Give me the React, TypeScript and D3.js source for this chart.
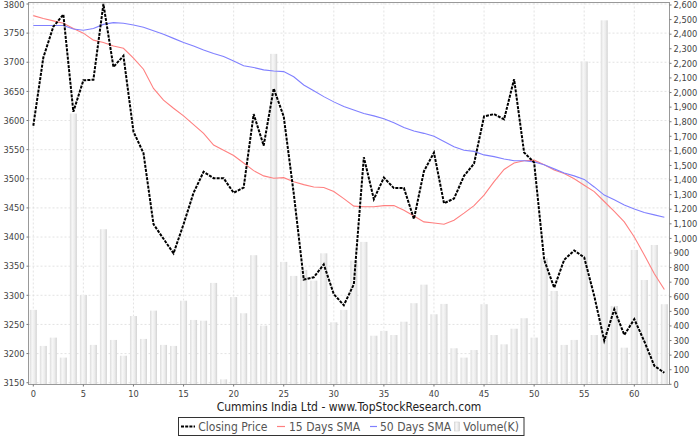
import React from "react";
import * as d3 from "d3";

const closing = [3591, 3708, 3761, 3782, 3615, 3669, 3670, 3800, 3692, 3711, 3581, 3544, 3422, 3397, 3372, 3422, 3476, 3512, 3501, 3501, 3476, 3485, 3611, 3557, 3655, 3607, 3475, 3327, 3331, 3353, 3302, 3283, 3319, 3537, 3465, 3502, 3484, 3484, 3431, 3513, 3545, 3458, 3466, 3505, 3526, 3607, 3611, 3602, 3671, 3545, 3528, 3361, 3313, 3361, 3377, 3365, 3299, 3222, 3276, 3232, 3259, 3221, 3179, 3167];
const sma15 = [3780, 3775, 3771, 3767, 3758, 3750, 3738, 3734, 3728, 3724, 3707, 3688, 3655, 3635, 3621, 3608, 3593, 3578, 3558, 3549, 3540, 3527, 3514, 3505, 3501, 3502, 3495, 3490, 3486, 3485, 3478, 3466, 3453, 3452, 3452, 3454, 3454, 3446, 3436, 3426, 3424, 3422, 3429, 3441, 3454, 3472, 3495, 3516, 3527, 3531, 3532, 3524, 3515, 3509, 3500, 3489, 3478, 3461, 3444, 3426, 3400, 3369, 3337, 3310];
const sma50 = [3763, 3763, 3763, 3763, 3757, 3755, 3758, 3765, 3768, 3767, 3764, 3760, 3754, 3748, 3741, 3734, 3728, 3721, 3715, 3710, 3702, 3694, 3691, 3687, 3685, 3684, 3675, 3661, 3651, 3641, 3632, 3624, 3618, 3612, 3608, 3603, 3596, 3588, 3582, 3578, 3573, 3564, 3555, 3549, 3547, 3541, 3538, 3534, 3531, 3531, 3529, 3524, 3517, 3510, 3505, 3499, 3486, 3472, 3464, 3455, 3448, 3442, 3438, 3434];
const volume = [510, 263, 320, 183, 1856, 612, 270, 1063, 304, 196, 468, 311, 505, 270, 263, 573, 441, 436, 695, 34, 598, 487, 885, 402, 2265, 839, 743, 784, 711, 898, 425, 510, 848, 976, 333, 366, 338, 429, 556, 683, 480, 551, 247, 183, 235, 549, 338, 274, 381, 453, 320, 864, 640, 270, 304, 2213, 338, 2495, 537, 251, 921, 715, 955, 549];

const xTicks = [0, 5, 10, 15, 20, 25, 30, 35, 40, 45, 50, 55, 60];
const priceTicks = [3150, 3200, 3250, 3300, 3350, 3400, 3450, 3500, 3550, 3600, 3650, 3700, 3750, 3800];
const volTicks = d3.range(0, 2601, 100);

const title = "Cummins India Ltd - www.TopStockResearch.com";
const legendLabels = ["Closing Price", "15 Days SMA", "50 Days SMA", "Volume(K)"];

const FONT = "'DejaVu Sans Condensed', 'DejaVu Sans', sans-serif";

export default function App() {
  const W = 700, H = 437;
  const plotL = 28.5, plotR = 669.5, plotT = 2.5, plotB = 384.5;
  const x = d3.scaleLinear().domain([0, 60]).range([33.3, 634.3]);
  const yP = d3.scaleLinear().domain([3150, 3800]).range([382.7, 4]);
  const yV = d3.scaleLinear().domain([0, 2600]).range([384.3, 5]);
  const line = (arr: number[]) =>
    d3.line<number>().x((_, i) => x(i)).y((d) => yP(d))(arr) || "";
  const bw = 7;
  const tickColor = "#444";
  const gridColor = "#dcdcdc";

  return (
    <svg width={W} height={H} style={{ position: "absolute", left: 0, top: 0, background: "#fff" }}
      fontFamily={FONT}>
      <defs>
        <linearGradient id="barGrad" x1="0" x2="1" y1="0" y2="0">
          <stop offset="0" stopColor="#dcdcdc" />
          <stop offset="0.35" stopColor="#f7f7f7" />
          <stop offset="0.7" stopColor="#ebebeb" />
          <stop offset="1" stopColor="#d2d2d2" />
        </linearGradient>
        <clipPath id="plotClip">
          <rect x={plotL} y={plotT} width={plotR - plotL} height={plotB - plotT} />
        </clipPath>
      </defs>
      <rect x={0} y={0} width={W} height={H} fill="#fff" />
      <g stroke={gridColor} strokeWidth={0.8} strokeDasharray="2,2">
        {xTicks.map((t) => (
          <line key={"gx" + t} x1={x(t)} x2={x(t)} y1={plotT} y2={plotB} />
        ))}
        {priceTicks.map((t) => (
          <line key={"gy" + t} x1={plotL} x2={plotR} y1={yP(t)} y2={yP(t)} />
        ))}
      </g>
      <g clipPath="url(#plotClip)">
        {volume.map((v, i) => (
          <rect key={"b" + i} x={x(i) - bw / 2} y={yV(v)} width={bw} height={yV(0) - yV(v)} fill="url(#barGrad)" />
        ))}
        <path d={line(sma15)} fill="none" stroke="#ff8080" strokeWidth={1.1} />
        <path d={line(sma50)} fill="none" stroke="#8080ff" strokeWidth={1.1} />
        <path d={line(closing)} fill="none" stroke="#000" strokeWidth={2} strokeDasharray="3,1.2" />
      </g>
      <rect x={plotL} y={plotT} width={plotR - plotL} height={plotB - plotT} fill="none" stroke="#999" strokeWidth={1} />
      <g fontSize={9.2} fill={tickColor}>
        {priceTicks.map((t) => (
          <g key={"lt" + t}>
            <line x1={plotL - 2} x2={plotL} y1={yP(t)} y2={yP(t)} stroke="#777" />
            <text x={plotL - 4} y={Math.max(yP(t), 4.5)} dy="0.35em" textAnchor="end">{t}</text>
          </g>
        ))}
        {volTicks.map((t) => (
          <g key={"rt" + t}>
            <line x1={plotR} x2={plotR + 2} y1={yV(t)} y2={yV(t)} stroke="#777" />
            <text x={plotR + 4} y={Math.max(yV(t), 4.5)} dy="0.35em" textAnchor="start">{d3.format(",")(t)}</text>
          </g>
        ))}
        {xTicks.map((t) => (
          <g key={"xt" + t}>
            <line x1={x(t)} x2={x(t)} y1={plotB} y2={plotB + 2} stroke="#777" />
            <text x={x(t)} y={396.7} textAnchor="middle">{t}</text>
          </g>
        ))}
      </g>
      <text x={(plotL + plotR) / 2} y={410.7} textAnchor="middle" fontSize={12} fill="#222">{title}</text>
      <g>
        <rect x={178.5} y={417.5} width={345.5} height={18} fill="#fff" stroke="#333" strokeWidth={1} />
        <line x1={181} x2={195} y1={426.5} y2={426.5} stroke="#000" strokeWidth={2} strokeDasharray="3,1.2" />
        <text x={198.3} y={430.5} fontSize={12} fill="#555">{legendLabels[0]}</text>
        <line x1={277} x2={285} y1={426.5} y2={426.5} stroke="#ff8080" strokeWidth={1.2} />
        <text x={289} y={430.5} fontSize={12} fill="#555">{legendLabels[1]}</text>
        <line x1={370} x2={377} y1={426.5} y2={426.5} stroke="#8080ff" strokeWidth={1.2} />
        <text x={380} y={430.5} fontSize={12} fill="#555">{legendLabels[2]}</text>
        <rect x={454.5} y={422} width={5} height={9} fill="url(#barGrad)" stroke="#ccc" strokeWidth={0.5} />
        <text x={463.3} y={430.5} fontSize={12} fill="#555">{legendLabels[3]}</text>
      </g>
    </svg>
  );
}
